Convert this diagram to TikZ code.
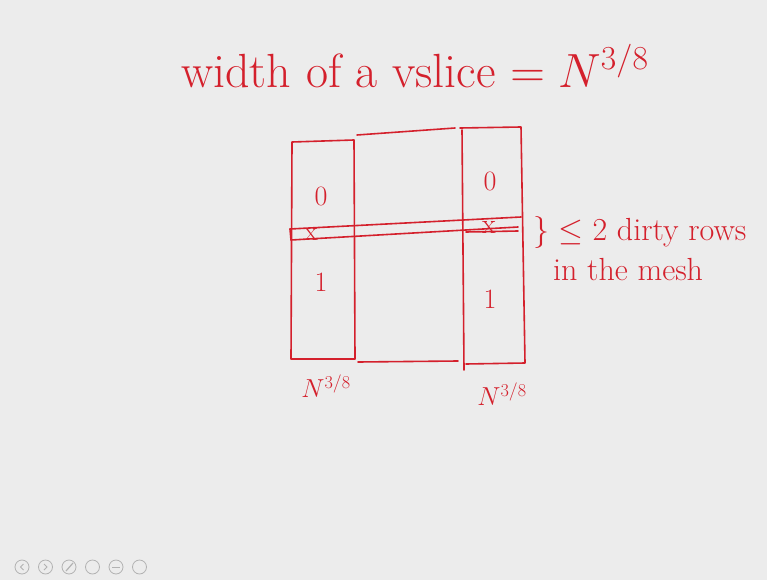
\RequirePackage{fix-cm}
\documentclass[tikz,border=0pt]{standalone}
\usepackage{amsmath}
\definecolor{ink}{RGB}{212,32,44}
\definecolor{board}{RGB}{236,236,236}
\definecolor{icon}{RGB}{178,178,178}
\tikzset{
  pen/.style={draw=ink,line width=1.6pt,line cap=round,line join=round},
  hand/.style={text=ink,inner sep=0pt},
  btn/.style={draw=icon,line width=0.8pt,circle,minimum size=14pt,inner sep=0pt}
}
\begin{document}
\begin{tikzpicture}[x=1pt,y=-1pt]
    \fill[board] (0,0) rectangle (767,580);
    \useasboundingbox (0,0) rectangle (767,580);
    % Titol de la pissarra
    \node[hand,font=\fontsize{48}{54}\selectfont] (title) at (415,66) {width of a vslice $=N^{3/8}$};
    % Columna esquerra, zona del mig i columna dreta
    \draw[pen] (292,142) -- (354,140) -- (355,359) -- (291,359) -- cycle;
    \draw[pen] (357,135) -- (455,128);
    \draw[pen] (358,362) -- (458,361);
    \draw[pen] (462,130) -- (464,370);
    \draw[pen] (460,128) -- (521,127) -- (525,363) -- (466,364);
    % Franja de files brutes
    \coordinate (bandTL) at (290,229);
    \coordinate (bandTR) at (521,217);
    \coordinate (bandBL) at (291,240);
    \coordinate (bandBR) at (518,227);
    \draw[pen] (bandTL) -- (bandTR);
    \draw[pen] (bandBL) -- (bandBR);
    \draw[pen] (bandTL) -- (bandBL);
    \draw[pen] (466,232) -- (518,231);
    \node[hand,font=\fontsize{28}{30}\selectfont] (crossL) at (311,234) {x};
    \node[hand,font=\fontsize{28}{30}\selectfont] (crossR) at (489,227) {x};
    % Etiquetes 0 i 1
    \node[hand,font=\fontsize{28}{32}\selectfont] (zeroL) at (321,196) {0};
    \node[hand,font=\fontsize{28}{32}\selectfont] (zeroR) at (490,181) {0};
    \node[hand,font=\fontsize{28}{32}\selectfont] (oneL) at (321,282) {1};
    \node[hand,font=\fontsize{28}{32}\selectfont] (oneR) at (490,299) {1};
    % Nota de la dreta
    \node[hand,font=\fontsize{32}{36}\selectfont,anchor=west] (dirty) at (533,232) {$\}$ $\leq 2$ dirty rows};
    \node[hand,font=\fontsize{32}{36}\selectfont,anchor=west] (mesh) at (553,270) {in the mesh};
    % Amplades
    \node[hand,font=\fontsize{26}{30}\selectfont] (wL) at (326,386) {$N^{3/8}$};
    \node[hand,font=\fontsize{26}{30}\selectfont] (wR) at (502,394) {$N^{3/8}$};
    % Botons de la barra
    \foreach \i in {0,...,5}
        \node[btn] (b\i) at (22+23.5*\i,567) {};
    \draw[icon,line width=0.8pt] (23.5,564) -- (20.5,567) -- (23.5,570);
    \draw[icon,line width=0.8pt] (44,564) -- (47,567) -- (44,570);
    \draw[icon,line width=1.2pt] (66,571) -- (73,563);
    \draw[icon,line width=0.8pt] (112,567) -- (120,567);
\end{tikzpicture}
\end{document}
